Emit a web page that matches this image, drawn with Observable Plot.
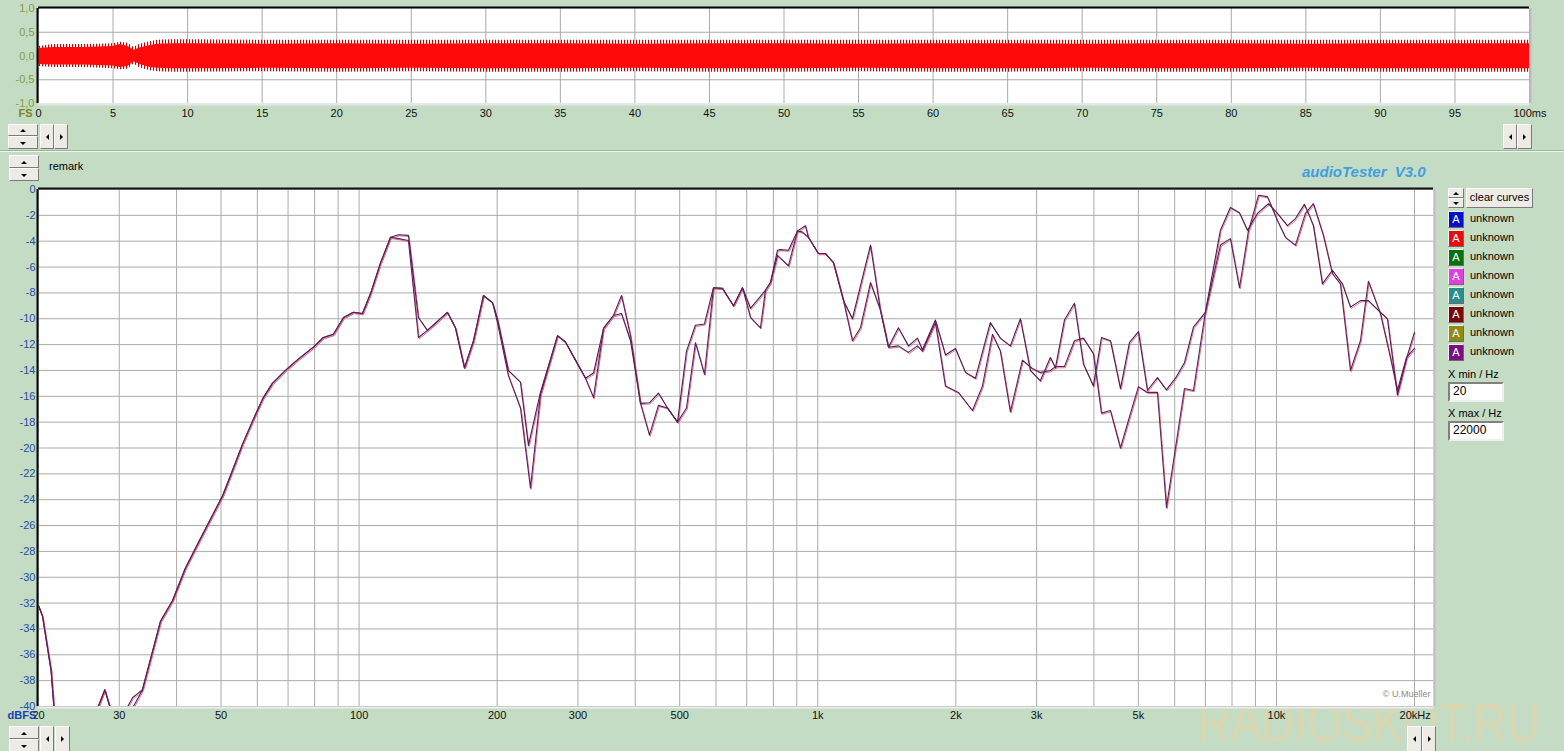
<!DOCTYPE html>
<html><head><meta charset="utf-8">
<script src="https://cdn.jsdelivr.net/npm/d3@7"></script>
<script src="https://cdn.jsdelivr.net/npm/@observablehq/plot@0.6"></script>
<style>
html,body{margin:0;padding:0;background:#c3dcc3;}
#root{position:relative;width:1564px;height:751px;overflow:hidden;background:#c3dcc3;font-family:"Liberation Sans",Arial,sans-serif;font-size:11px;color:#000;}
.btn{position:absolute;background:#ecebe6;border:1px solid;border-color:#ffffff #7a7a7a #7a7a7a #ffffff;box-sizing:border-box;}
.txt{position:absolute;white-space:nowrap;}
.sq{position:absolute;width:16px;height:17px;box-sizing:border-box;border:1px solid;border-color:#f4f4f4 #6a6a6a #6a6a6a #f4f4f4;color:#fff;font-size:11px;text-align:center;line-height:15px;}
.inp{position:absolute;background:#fff;box-sizing:border-box;border:2px solid;border-color:#808080 #f0f0f0 #f0f0f0 #808080;font-size:12px;padding-left:3px;line-height:15px;}
</style>
</head><body><div id="root"></div>
<script>
// ---------- DATA ----------
// Frequency response, curve A
const freqA = [20,20.4,21.3,21.6,27.0,27.9,28.6,31.3,32.1,32.9,
33.7,36.9,39.2,41.8,45.1,47.9,50.4,53.0,55.7,58.6,
61.6,64.7,69.1,73.8,79.5,83.6,87.9,92.5,97.2,101.7,
105.9,111.3,117.1,121.9,128.1,134.7,140.9,155.8,162.2,169.7,
177.6,186.7,195.4,200.3,211.6,224.8,234.0,248.5,270.8,281.8,
296.3,311.6,324.4,341.1,358.6,373.3,390.6,410.7,429.6,449.4,
470.3,494.5,517.4,541.2,566.2,592.4,619.8,654.9,685.2,713.4,
769,788.6,816.8,829,863.3,903.2,926,954,1003,1039,
1082,1138,1190,1303,1370,1426,1499,1577,1649,1691,
1805,1898,1996,2099,2207,2378,2501,2630,2765,2908,
3057,3215,3297,3450,3627,3795,3990,4155,4346,4570,
4781,5002,5233,5502,5757,6024,6302,6593,6998,7550,
7937,8306,8646,9091,9606,10050,10568,11002,11508,11742,
12040,12596,13243,13928,14500,15245,15867,16686,17457,18356,
19203,19990];
const dbA = [-32.2,-33.0,-37.2,-40,-40,-38.7,-40,-40,-39.3,-39.0,
-38.7,-33.4,-31.8,-29.3,-27.0,-25.2,-23.7,-21.7,-19.7,-17.9,
-16.2,-15.0,-14.0,-13.1,-12.2,-11.45,-11.2,-9.9,-9.5,-9.6,
-8.05,-5.7,-3.7,-3.5,-3.55,-9.9,-10.9,-9.5,-10.7,-13.8,
-11.7,-8.2,-8.75,-10.0,-14.0,-14.9,-19.8,-15.7,-11.3,-11.8,
-13.2,-14.6,-14.2,-10.75,-9.75,-9.6,-11.7,-16.55,-16.5,-15.75,
-16.9,-18.0,-12.5,-10.5,-10.4,-7.6,-7.65,-9.0,-7.6,-9.2,
-7.8,-7.2,-4.7,-4.65,-4.7,-3.2,-3.3,-3.7,-4.95,-4.95,
-5.65,-8.6,-10.0,-4.3,-9.35,-12.2,-10.7,-12.1,-11.5,-12.4,
-10.1,-12.8,-12.3,-14.15,-14.6,-10.3,-11.5,-12.1,-10.0,-14.0,
-14.8,-13.0,-13.8,-10.1,-8.8,-13.5,-15.2,-11.45,-11.7,-15.4,
-11.85,-11.0,-15.55,-14.55,-15.5,-14.6,-13.4,-10.65,-9.5,-3.15,
-1.4,-1.8,-3.15,-1.85,-1.1,-1.85,-2.8,-2.25,-1.15,-1.85,
-2.8,-7.3,-6.25,-7.3,-9.1,-8.6,-8.6,-9.35,-10.0,-15.9,
-13.1,-11.05];
// Frequency response, curve B
const freqB = [20,20.4,21.3,21.6,27.0,27.9,28.6,31.7,32.2,32.9,
33.7,36.9,39.2,41.8,45.1,47.9,50.4,53.0,55.7,58.6,
61.6,64.7,69.1,73.8,79.5,83.6,87.9,92.5,97.2,101.7,
105.9,111.3,117.1,121.9,128.1,134.7,140.9,155.8,162.2,169.7,
177.6,186.7,195.4,200.3,211.6,224.8,236.4,248.5,270.8,281.8,
296.3,311.6,324.4,341.1,358.6,373.3,390.6,410.7,429.6,449.4,
470.3,494.5,517.4,541.2,566.2,592.4,619.8,654.9,685.2,713.4,
750,769,788.6,816.8,863.3,903.2,939.8,954,1003,1039,
1082,1138,1190,1239,1303,1370,1426,1499,1577,1649,
1691,1805,1898,2026,2174,2286,2404,2501,2630,2794,
2938,3057,3215,3297,3450,3627,3795,3990,4155,4346,
4570,4781,5002,5233,5502,5757,6024,6302,6593,6998,
7550,7937,8306,8690,9138,9558,10050,10462,11002,11566,
12040,12658,13243,13790,14500,15245,15867,16856,17724,18356,
19203,19990];
const dbB = [-32.2,-33.0,-37.2,-40,-40,-38.7,-40,-40,-40,-39.4,
-38.7,-33.4,-31.8,-29.3,-27.0,-25.2,-23.7,-21.7,-19.7,-17.9,
-16.2,-15.0,-14.0,-13.1,-12.2,-11.45,-11.2,-9.9,-9.5,-9.6,
-8.05,-5.7,-3.7,-3.8,-3.95,-11.45,-10.9,-9.5,-10.7,-13.8,
-11.7,-8.2,-8.75,-10.3,-14.4,-16.9,-23.1,-15.9,-11.3,-11.8,
-13.2,-14.6,-16.1,-10.75,-9.75,-8.2,-11.3,-16.55,-19.0,-16.7,
-16.9,-18.0,-16.9,-11.85,-14.3,-7.6,-7.65,-9.0,-7.6,-9.9,
-10.7,-7.8,-7.2,-5.1,-5.9,-3.2,-2.8,-3.7,-4.95,-4.95,
-5.65,-8.6,-11.7,-10.7,-7.2,-9.35,-12.2,-12.1,-12.6,-12.1,
-12.5,-10.3,-15.2,-15.7,-17.1,-15.2,-11.2,-12.5,-17.2,-13.2,
-13.85,-14.15,-14.0,-13.7,-13.7,-11.7,-11.5,-12.7,-17.3,-17.1,
-20.0,-17.6,-15.25,-15.7,-15.7,-24.6,-20.0,-15.4,-15.55,-9.5,
-4.3,-3.8,-7.6,-3.2,-0.45,-0.55,-2.4,-3.7,-4.3,-1.85,
-1.1,-3.55,-6.5,-7.3,-14.0,-11.7,-7.1,-9.6,-13.0,-15.55,
-13.0,-12.3];

// Time signal envelope (ms, FS)
const waveT    = [0,1,2,3,4,5,5.5,6,6.4,6.8,7.5,8,9,10,15,20,25,30,35,40,45,50,55,60,65,70,75,80,85,90,95,100];
const coreUp   = [0.16,0.18,0.18,0.18,0.19,0.2,0.24,0.2,0.12,0.17,0.22,0.25,0.26,0.26,0.25,0.26,0.25,0.26,0.26,0.25,0.26,0.26,0.25,0.26,0.26,0.25,0.26,0.26,0.25,0.26,0.26,0.26];
const coreLo   = [-0.18,-0.19,-0.19,-0.19,-0.2,-0.21,-0.24,-0.22,-0.12,-0.18,-0.24,-0.26,-0.27,-0.27,-0.26,-0.27,-0.26,-0.27,-0.27,-0.26,-0.27,-0.27,-0.26,-0.27,-0.27,-0.26,-0.27,-0.27,-0.26,-0.27,-0.27,-0.27];
const spikeUp  = [0.2,0.24,0.24,0.24,0.25,0.26,0.29,0.27,0.18,0.25,0.3,0.33,0.34,0.34,0.33,0.33,0.33,0.33,0.33,0.33,0.33,0.33,0.33,0.33,0.33,0.33,0.33,0.33,0.33,0.33,0.33,0.33];
const spikeLo  = [-0.22,-0.24,-0.24,-0.24,-0.25,-0.27,-0.29,-0.28,-0.17,-0.25,-0.31,-0.33,-0.34,-0.34,-0.33,-0.34,-0.33,-0.34,-0.34,-0.33,-0.34,-0.34,-0.33,-0.34,-0.34,-0.33,-0.34,-0.34,-0.33,-0.34,-0.34,-0.34];

// Axes / ticks
const timeTicks = [0,5,10,15,20,25,30,35,40,45,50,55,60,65,70,75,80,85,90,95];
const timeLabels = ["0","5","10","15","20","25","30","35","40","45","50","55","60","65","70","75","80","85","90","95"];
const ampTicks = [1,0.5,0,-0.5,-1];
const ampLabels = ["1,0","0,5","0,0","-0,5","-1,0"];
const freqGrid = [20,30,40,50,60,70,80,90,100,200,300,400,500,600,700,800,900,1000,2000,3000,4000,5000,6000,7000,8000,9000,10000,20000];
const freqTicks = [20,30,50,100,200,300,500,1000,2000,3000,5000,10000];
const freqLabels = ["20","30","50","100","200","300","500","1k","2k","3k","5k","10k"];
const dbTicks = [0,-2,-4,-6,-8,-10,-12,-14,-16,-18,-20,-22,-24,-26,-28,-30,-32,-34,-36,-38,-40];
const legendNames = ["unknown","unknown","unknown","unknown","unknown","unknown","unknown","unknown"];
const legendColors = ["#0010c8","#e80c0c","#0a7010","#e040e0","#2a8c8c","#7a0808","#8c8c10","#7a1080"];

// ---------- BUILD ----------
const root = document.getElementById("root");
const font = "Liberation Sans, Arial, sans-serif";

function el(cls, l, t, w, h, css){
  const d = document.createElement("div"); d.className = cls;
  d.style.left = l+"px"; d.style.top = t+"px";
  if (w!=null) d.style.width = w+"px"; if (h!=null) d.style.height = h+"px";
  if (css) Object.assign(d.style, css);
  root.appendChild(d); return d;
}

// watermark (beneath the charts so labels stay on top)
el("txt", 1198, 692, null, null, {fontSize:"53px", color:"#d9d6b0", transform:"scaleX(0.86)", transformOrigin:"0 0"}).textContent = "RADIOSKOT.RU";

const curveA = freqA.map((f,i)=>({f, db: dbA[i]}));
const curveB = freqB.map((f,i)=>({f, db: dbB[i]}));
const wave = waveT.map((t,i)=>({t, cu: coreUp[i], cl: coreLo[i], su: spikeUp[i], sl: spikeLo[i]}));

// Top: time signal
const topFig = Plot.plot({
  width:1564, height:150,
  marginLeft:38, marginRight:35, marginTop:8, marginBottom:47,
  x:{domain:[0,100], axis:null},
  y:{domain:[-1,1], axis:null},
  style:{background:"transparent", fontFamily:font, fontSize:"11px", overflow:"visible"},
  marks:[
    Plot.frame({fill:"white", stroke:"none"}),
    Plot.ruleX(timeTicks.concat([100]), {stroke:"#a9a9a9", strokeWidth:1}),
    Plot.ruleY([0.5,0,-0.5], {stroke:"#a9a9a9", strokeWidth:1}),
    Plot.areaY(wave, {x:"t", y1:"sl", y2:"su", fill:"url(#spk)", curve:"linear"}),
    Plot.areaY(wave, {x:"t", y1:"cl", y2:"cu", fill:"#ff0a0a", curve:"linear"}),
    Plot.ruleY([-1], {stroke:"#e6e6e6", strokeWidth:2, dy:1}),
    Plot.ruleX([100], {stroke:"#bdbdbd", strokeWidth:2, dx:1}),
    Plot.ruleX([0], {stroke:"#000", strokeWidth:2, dx:-1}),
    Plot.ruleY([1], {stroke:"#000", strokeWidth:2, dy:-1}),
    Plot.text(ampTicks, {y:d=>d, text:(d,i)=>ampLabels[i], frameAnchor:"left", dx:-4, textAnchor:"end", fill:"#8a9a48"}),
    Plot.text(timeTicks, {x:d=>d, text:(d,i)=>timeLabels[i], frameAnchor:"bottom", dy:13, fill:"#111"}),
    Plot.text(["100ms"], {x:100, frameAnchor:"bottom", dy:13, dx:-16, textAnchor:"start", fill:"#111"}),
    Plot.text(["FS"], {frameAnchor:"bottom-left", dx:-20, dy:13, textAnchor:"start", fill:"#76861e", fontWeight:"bold"})
  ]
});
// pattern for the spiky envelope
const ns = "http://www.w3.org/2000/svg";
const defs = document.createElementNS(ns, "defs");
const pat = document.createElementNS(ns, "pattern");
pat.setAttribute("id","spk"); pat.setAttribute("patternUnits","userSpaceOnUse");
pat.setAttribute("width","3"); pat.setAttribute("height","20");
const pr = document.createElementNS(ns, "rect");
pr.setAttribute("x","0"); pr.setAttribute("y","0"); pr.setAttribute("width","1.1"); pr.setAttribute("height","20"); pr.setAttribute("fill","#c80000");
pat.appendChild(pr); defs.appendChild(pat); topFig.insertBefore(defs, topFig.firstChild);
topFig.style.position="absolute"; topFig.style.left="0px"; topFig.style.top="0px";
root.appendChild(topFig);

// Bottom: frequency response
const bottomFig = Plot.plot({
  width:1564, height:599,
  marginLeft:38, marginRight:131, marginTop:37, marginBottom:45,
  x:{type:"log", domain:[20,22000], axis:null},
  y:{domain:[-40,0], axis:null},
  style:{background:"transparent", fontFamily:font, fontSize:"11px", overflow:"visible"},
  marks:[
    Plot.frame({fill:"white", stroke:"none"}),
    Plot.ruleX(freqGrid, {stroke:"#ababab", strokeWidth:1}),
    Plot.ruleY(dbTicks, {stroke:"#ababab", strokeWidth:1}),
    Plot.line(curveA, {x:"f", y:"db", stroke:"#e27ab6", strokeWidth:1, dx:0.8, dy:1.2, clip:true}),
    Plot.line(curveB, {x:"f", y:"db", stroke:"#e0707c", strokeWidth:1, dx:0.8, dy:1.2, clip:true}),
    Plot.line(curveA, {x:"f", y:"db", stroke:"#4e1d44", strokeWidth:1.1, clip:true}),
    Plot.line(curveB, {x:"f", y:"db", stroke:"#5a1f62", strokeWidth:1.1, clip:true}),
    Plot.ruleY([-40], {stroke:"#ededed", strokeWidth:2, dy:1}),
    Plot.ruleX([22000], {stroke:"#bdbdbd", strokeWidth:2, dx:1}),
    Plot.ruleX([20], {stroke:"#000", strokeWidth:2, dx:-1}),
    Plot.ruleY([0], {stroke:"#111", strokeWidth:2, dy:-1}),
    Plot.text(dbTicks, {y:d=>d, text:d=>String(d), frameAnchor:"left", dx:-3, textAnchor:"end", fill:"#2a4aa8"}),
    Plot.text(freqTicks, {x:d=>d, text:(d,i)=>freqLabels[i], frameAnchor:"bottom", dy:12, fill:"#111"}),
    Plot.text(["20kHz"], {x:20000, frameAnchor:"bottom", dy:12, dx:-15, textAnchor:"start", fill:"#111"}),
    Plot.text(["dBFS"], {frameAnchor:"bottom-left", dx:-31, dy:12, textAnchor:"start", fill:"#1a3cb4", fontWeight:"bold"}),
    Plot.text(["© U.Mueller"], {frameAnchor:"bottom-right", dx:-3, dy:-10, textAnchor:"end", fill:"#8a8a8a", fontSize:9})
  ]
});
bottomFig.style.position="absolute"; bottomFig.style.left="0px"; bottomFig.style.top="152px";
root.appendChild(bottomFig);

// ---------- UI chrome ----------
function tri(l, t, dir){
  const s = document.createElement("div");
  Object.assign(s.style, {position:"absolute", width:"0", height:"0", left:l+"px", top:t+"px"});
  if (dir==="up"){ s.style.borderLeft="3px solid transparent"; s.style.borderRight="3px solid transparent"; s.style.borderBottom="3px solid #000"; }
  else if (dir==="down"){ s.style.borderLeft="3px solid transparent"; s.style.borderRight="3px solid transparent"; s.style.borderTop="3px solid #000"; }
  else if (dir==="left"){ s.style.borderTop="3px solid transparent"; s.style.borderBottom="3px solid transparent"; s.style.borderRight="3px solid #000"; }
  else { s.style.borderTop="3px solid transparent"; s.style.borderBottom="3px solid transparent"; s.style.borderLeft="3px solid #000"; }
  root.appendChild(s);
}
function spinner(l, t, w, h){
  const hh = Math.floor(h/2);
  el("btn", l, t, w, hh); el("btn", l, t+hh, w, h-hh);
  tri(l+w/2-3, t+hh/2-1, "up"); tri(l+w/2-3, t+hh+(h-hh)/2-1, "down");
}
function arrowBtn(l, t, w, h, dir){ el("btn", l, t, w, h); tri(l+w/2-1.5, t+h/2-3, dir); }

// separator
el("", 0, 150, 1564, 1, {position:"absolute", background:"#9fb59f"});
el("", 0, 151, 1564, 1, {position:"absolute", background:"#ecf4ec"});

// top panel controls
spinner(8, 124, 30, 25);
arrowBtn(40, 124, 14, 25, "left"); arrowBtn(54, 124, 14, 25, "right");
arrowBtn(1503, 124, 14, 25, "left"); arrowBtn(1517, 124, 15, 25, "right");
// bottom panel controls
spinner(9, 155, 30, 26);
el("txt", 49, 160, null, null, {fontSize:"11px"}).textContent = "remark";
spinner(9, 726, 30, 26);
arrowBtn(40, 726, 14, 26, "left"); arrowBtn(55, 726, 15, 26, "right");
arrowBtn(1407, 726, 15, 26, "left"); arrowBtn(1422, 726, 14, 26, "right");

// title
el("txt", 1302, 163, null, null, {fontSize:"15px", fontWeight:"bold", fontStyle:"italic", color:"#3f9fdf", whiteSpace:"pre"}).textContent = "audioTester  V3.0";

// legend panel
spinner(1448, 188, 16, 20);
const cc = el("btn", 1466, 188, 67, 20, {fontSize:"11px", textAlign:"center", lineHeight:"17px"}); cc.textContent = "clear curves";
legendNames.forEach((name, i) => {
  const t = 211 + i*19;
  const s = el("sq", 1448, t, null, null, {background: legendColors[i]}); s.textContent = "A";
  el("txt", 1470, t+1, null, null, {fontSize:"11px"}).textContent = name;
});
el("txt", 1448, 368, null, null, {fontSize:"11px"}).textContent = "X min / Hz";
el("inp", 1448, 382, 56, 20).textContent = "20";
el("txt", 1448, 407, null, null, {fontSize:"11px"}).textContent = "X max / Hz";
el("inp", 1448, 421, 56, 20).textContent = "22000";
</script>
</body></html>
